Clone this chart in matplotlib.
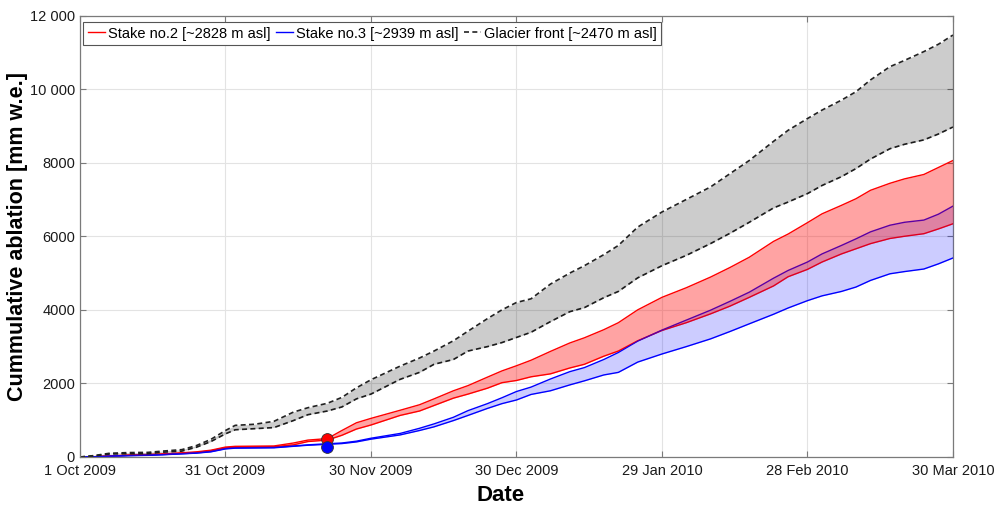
import numpy as np
import matplotlib
matplotlib.use('Agg')
import matplotlib.pyplot as plt
import matplotlib.dates as mdates
from matplotlib.ticker import FuncFormatter

plt.rcParams['font.family'] = ['Liberation Sans', 'DejaVu Sans']

# days since 1 Oct 2009
days = [0, 3, 6, 10, 14, 17, 21, 24, 27, 30, 32, 36, 40, 44, 47, 51, 54, 57, 60, 66,
        70, 73, 77, 80, 84, 87, 90, 93, 97, 101, 104, 108, 111, 115, 120, 125, 130, 134, 138, 143,
        146, 150, 153, 157, 160, 163, 167, 170, 174, 177, 180]

# cumulative ablation, mm w.e. (upper / lower bound of each band)
front_hi = [0, 40, 100, 120, 125, 160, 200, 310, 480, 720, 860, 890, 970, 1220, 1340, 1460, 1620, 1880, 2100, 2470,
            2690, 2880, 3160, 3420, 3760, 4000, 4200, 4300, 4700, 5000, 5200, 5500, 5750, 6250, 6660, 7000, 7340, 7700, 8060, 8580,
            8880, 9200, 9430, 9700, 9930, 10250, 10610, 10780, 11020, 11220, 11470]
front_lo = [0, 30, 80, 90, 90, 130, 160, 265, 420, 630, 740, 770, 800, 990, 1150, 1250, 1360, 1580, 1710, 2110,
            2300, 2520, 2650, 2880, 3000, 3110, 3250, 3390, 3680, 3950, 4060, 4330, 4500, 4870, 5200, 5480, 5800, 6080, 6380, 6770,
            6930, 7160, 7380, 7620, 7840, 8100, 8380, 8500, 8620, 8780, 8970]
stake2_hi = [0, 10, 30, 55, 70, 85, 115, 140, 185, 270, 290, 295, 300, 380, 460, 500, 720, 930, 1050, 1270,
             1420, 1580, 1800, 1940, 2170, 2340, 2480, 2630, 2870, 3100, 3240, 3460, 3650, 4000, 4340, 4600, 4890, 5150, 5430, 5860,
             6060, 6370, 6610, 6840, 7020, 7250, 7440, 7560, 7680, 7870, 8060]
stake2_lo = [0, 8, 25, 45, 60, 75, 100, 125, 170, 250, 270, 275, 280, 330, 420, 460, 590, 760, 870, 1130,
             1250, 1400, 1600, 1710, 1870, 2020, 2080, 2180, 2260, 2420, 2520, 2740, 2880, 3160, 3440, 3650, 3890, 4100, 4340, 4650,
             4900, 5100, 5300, 5520, 5660, 5800, 5940, 6000, 6070, 6200, 6340]
stake3_hi = [0, 5, 20, 40, 50, 65, 90, 110, 150, 230, 250, 255, 260, 300, 330, 360, 380, 430, 510, 640,
             780, 900, 1080, 1260, 1450, 1610, 1780, 1900, 2120, 2320, 2430, 2650, 2840, 3150, 3450, 3720, 3990, 4230, 4480, 4860,
             5070, 5300, 5520, 5750, 5930, 6120, 6300, 6380, 6440, 6600, 6820]
stake3_lo = [0, 5, 18, 35, 45, 60, 85, 105, 140, 220, 240, 245, 250, 290, 320, 345, 365, 410, 485, 600,
             720, 820, 990, 1130, 1320, 1450, 1550, 1700, 1800, 1960, 2070, 2230, 2300, 2580, 2800, 3000, 3210, 3410, 3620, 3880,
             4050, 4250, 4380, 4500, 4620, 4800, 4980, 5040, 5110, 5250, 5410]

# measured stake points (20 Nov 2009)
meas_day = 51
meas_stake2 = 500
meas_stake3 = 260

labels = ['Stake no.2 [~2828 m asl]', 'Stake no.3 [~2939 m asl]', 'Glacier front [~2470 m asl]']

start = np.datetime64('2009-10-01')
t = start + np.array(days).astype('timedelta64[D]')
t_meas = start + np.timedelta64(meas_day, 'D')

fig = plt.figure(figsize=(9.96, 5.08), dpi=100)
ax = fig.add_axes([0.0803, 0.1004, 0.8765, 0.869])

# lines first, translucent bands drawn over them
ax.plot(t, stake2_hi, color='red', lw=1.0, zorder=2, label=labels[0])
ax.plot(t, stake2_lo, color='red', lw=1.0, zorder=2)
ax.plot(t, stake3_hi, color='blue', lw=1.0, zorder=2, label=labels[1])
ax.plot(t, stake3_lo, color='blue', lw=1.0, zorder=2)
ax.plot(t, front_hi, color='#222222', lw=1.2, ls=(0, (3, 2)), zorder=2, label=labels[2])
ax.plot(t, front_lo, color='#222222', lw=1.2, ls=(0, (3, 2)), zorder=2)

ax.fill_between(t, front_lo, front_hi, color='black', alpha=0.2, lw=0, zorder=3)
ax.fill_between(t, stake3_lo, stake3_hi, color='blue', alpha=0.2, lw=0, zorder=3)
ax.fill_between(t, stake2_lo, stake2_hi, color='red', alpha=0.36, lw=0, zorder=3)

ax.plot(t_meas, meas_stake2, 'o', ms=8.5, mfc='red', mec='#333333', mew=0.6, zorder=4)
ax.plot(t_meas, meas_stake3, 'o', ms=8.5, mfc='blue', mec='#333333', mew=0.6, zorder=4)

ax.set_xlim(start, start + np.timedelta64(180, 'D'))
ax.set_ylim(0, 12000)
tick_days = [0, 30, 60, 90, 120, 150, 180]
ax.set_xticks(start + np.array(tick_days).astype('timedelta64[D]'))
ax.xaxis.set_major_formatter(FuncFormatter(
    lambda v, p: f"{mdates.num2date(v).day} {mdates.num2date(v):%b %Y}"))
ax.set_yticks(np.arange(0, 12001, 2000))
ax.yaxis.set_major_formatter(FuncFormatter(
    lambda v, p: f"{int(v):,}".replace(',', ' ') if v >= 10000 else f"{int(v)}"))

ax.grid(True, color='#e3e3e3', lw=0.8, zorder=0)
ax.set_axisbelow(True)
for s in ax.spines.values():
    s.set_color('#7a7a7a')
    s.set_linewidth(0.9)
ax.tick_params(direction='in', top=True, right=True, length=4, width=0.8,
               color='#7a7a7a', labelsize=10.5, labelcolor='#1a1a1a')
ax.tick_params(axis='x', pad=5)

ax.set_xlabel('Date', fontsize=16, fontweight='bold')
ax.set_ylabel('Cummulative ablation [mm w.e.]', fontsize=15.5, fontweight='bold')
ax.xaxis.set_label_coords(0.482, -0.064)
ax.yaxis.set_label_coords(-0.059, 0.5)

leg = ax.legend(loc='upper left', bbox_to_anchor=(0.004, 0.985), borderaxespad=0,
                ncol=3, fontsize=10.5, handlelength=1.2, handletextpad=0.2,
                columnspacing=0.35, borderpad=0.3, fancybox=False, framealpha=1)
leg.get_frame().set_edgecolor('#555555')
leg.get_frame().set_linewidth(0.8)

fig.savefig('out.png', dpi=100)
